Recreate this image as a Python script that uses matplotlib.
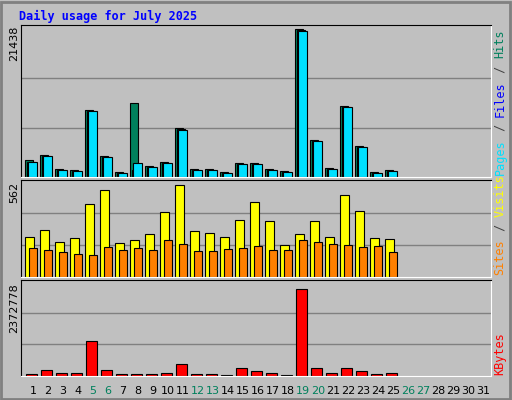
import matplotlib
matplotlib.use("Agg")
import matplotlib.pyplot as plt
import numpy as np

days = np.arange(1, 32)
u = 21438 / 441
hits = np.array([50,65,23,20,200,62,14,221,32,44,146,23,23,14,41,41,23,17,440,110,26,212,92,14,20]) * u
files = np.array([45,63,21,18,198,60,12,22,30,42,142,21,21,12,39,39,21,15,438,108,24,210,90,12,18]) * u
pages = np.array([44,62,20,17,197,59,11,41,29,41,140,20,20,11,38,38,20,14,436,107,23,208,89,11,17]) * u
v = 562 / 290
visits = np.array([120,141,105,117,219,261,102,111,129,195,277,138,132,120,171,225,168,96,129,168,120,246,198,117,114]) * v
sites = np.array([87,81,75,69,66,90,81,87,81,111,99,78,78,84,87,93,81,81,111,105,99,96,90,93,75]) * v
k = 2372778 / 297
kbytes = np.array([6,18,9,9,108,18,6,6,6,9,39,6,6,3,24,15,9,3,273,24,9,24,15,6,9]) * k
weekend = [5, 6, 12, 13, 19, 20, 26, 27]
title = "Daily usage for July 2025"
maxes = ["21438", "562", "2372778"]

W, H = 512, 400
fig = plt.figure(figsize=(W/100, H/100), dpi=100)
fig.patch.set_facecolor("#c0c0c0")
mono = "DejaVu Sans Mono"

def mkax(top, bot):
    ax = fig.add_axes([21/W, 1 - bot/H, (491-21)/W, (bot-top)/H])
    ax.set_facecolor("#c0c0c0")
    ax.set_xlim(0.2, 31.53)
    ax.set_xticks([]); ax.set_yticks([])
    for s in ["left", "top"]:
        ax.spines[s].set_color("black")
    for s in ["right", "bottom"]:
        ax.spines[s].set_color("white")
    return ax

n = len(hits)
d = days[:n]
ax1 = mkax(25, 177)
top1 = 21438 * (176 - 25) / 147
ax1.set_ylim(0, top1)
for g in [21438/3, 2*21438/3]:
    ax1.axhline(g, color="#808080", lw=1, zorder=0)
ax1.bar(d - 0.533, hits, width=0.533, align="edge", color="#00805c", edgecolor="black", lw=0.8)
ax1.bar(d - 0.42, files, width=0.533, align="edge", color="#0000ff", edgecolor="black", lw=0.8)
ax1.bar(d - 0.333, pages, width=0.6, align="edge", color="#00e0ff", edgecolor="black", lw=0.8)

ax2 = mkax(180, 277)
ax2.set_ylim(0, 562 * 97/96.6)
for g in [562/3, 2*562/3]:
    ax2.axhline(g, color="#808080", lw=1, zorder=0)
ax2.bar(d - 0.533, visits, width=0.6, align="edge", color="#ffff00", edgecolor="black", lw=0.8)
ax2.bar(d - 0.25, sites, width=0.5, align="edge", color="#ff8000", edgecolor="black", lw=0.8)

ax3 = mkax(280, 376)
ax3.set_ylim(0, 2372778 * 96/95)
for g in [2372778/3, 2*2372778/3]:
    ax3.axhline(g, color="#808080", lw=1, zorder=0)
ax3.bar(d - 0.47, kbytes, width=0.73, align="edge", color="#ff0000", edgecolor="black", lw=0.8)

for dd in days:
    ax3.text(dd, -0.1, str(dd), transform=ax3.get_xaxis_transform(), ha="center", va="top",
             fontsize=8, color="#00805c" if dd in weekend else "black", family="DejaVu Sans")

fig.text(19/W, 1 - 16/H, title, color="#0000ff", fontsize=8.5, weight="bold", family=mono, va="center")

for txt, y0 in zip(maxes, [26, 182, 283]):
    fig.text(14/W, 1 - y0/H, txt, rotation=90, ha="center", va="top", fontsize=8, family="DejaVu Sans")

cw = 7.3
def rlabel(parts, ybot):
    y = ybot
    for s, c in parts:
        fig.text(500/W, 1 - y/H, s, rotation=90, ha="center", va="bottom", color=c,
                 fontsize=8.5, family=mono)
        y -= cw * len(s)

rlabel([("Pages", "#00e0ff"), (" / ", "#404040"), ("Files", "#0000ff"), (" / ", "#404040"), ("Hits", "#00805c")], 175)
rlabel([("Sites", "#ff8000"), (" / ", "#404040"), ("Visits", "#ffff00")], 275)
rlabel([("KBytes", "#ff0000")], 375)

# outer border
fig.add_artist(plt.Rectangle((1/W, 1/H), (W-3)/W, (H-3)/H, transform=fig.transFigure, fill=False, edgecolor="#808080", lw=2))
fig.savefig("out.png", dpi=100, facecolor=fig.get_facecolor())
